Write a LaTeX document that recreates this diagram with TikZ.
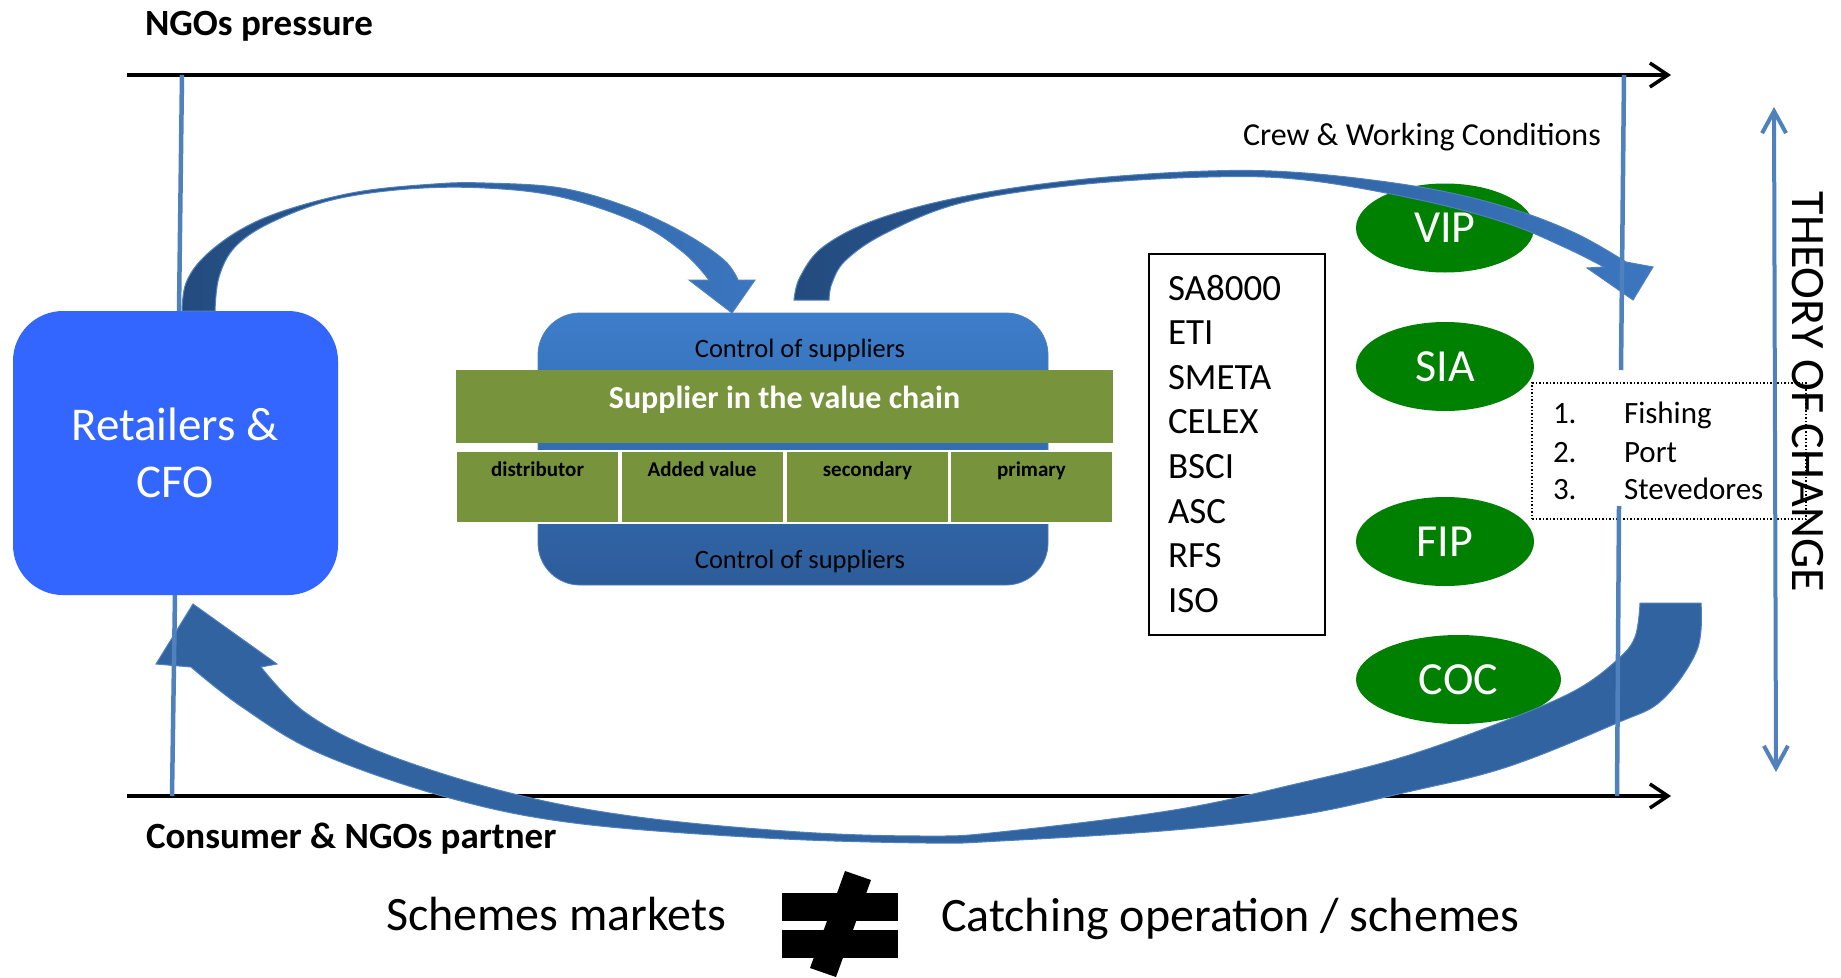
\documentclass[tikz,border=0pt]{standalone}
\usepackage{fontspec}
\setmainfont{Carlito}
\usetikzlibrary{arrows.meta,shapes.geometric}
\definecolor{retblue}{HTML}{3366FF}
\definecolor{linblue}{HTML}{4F81BD}
\definecolor{olivegr}{HTML}{77933C}
\definecolor{ellgreen}{HTML}{008000}
\definecolor{arrdark}{HTML}{234B7E}
\definecolor{arrlight}{HTML}{3B76BF}
\definecolor{arrmid}{HTML}{3063A0}
\definecolor{supptop}{HTML}{3D7DCA}
\definecolor{suppbot}{HTML}{2D5C9A}
\newcommand\fsz[1]{\fontsize{#1}{#1}\selectfont}
\begin{document}
\begin{tikzpicture}[x=1pt,y=-1pt,
  txt/.style={inner sep=0pt, outer sep=0pt},
  axisline/.style={line width=3.5pt, -{Straight Barb[length=18pt,width=24pt,line width=3.5pt]}},
  vline/.style={draw=linblue, line width=4.5pt},
  bigarrow/.style={draw=linblue, line width=1pt, left color=arrdark, right color=arrlight},
  ellnode/.style={ellipse, fill=ellgreen, text=white, inner sep=0pt, font=\fsz{46}, minimum height=89pt},
  cellbox/.style={fill=olivegr, draw=white, line width=2pt, minimum width=163pt, minimum height=72pt, inner sep=0pt},
  celltext/.style={txt, anchor=base, font=\bfseries\fsz{21}},
  stdtext/.style={txt, anchor=base west, font=\fsz{37}},
  listtext/.style={txt, anchor=base west, font=\fsz{31}},
  bigtext/.style={txt, anchor=base west, font=\fsz{48}}
]
\fill[white] (0,0) rectangle (1841,977);
\useasboundingbox (0,0) rectangle (1841,977);

% ---- horizontal axis arrows
\coordinate (topL) at (127,75);
\coordinate (topR) at (1671,75);
\coordinate (botL) at (127,796);
\coordinate (botR) at (1671,796);
\draw[axisline] (topL) -- (topR);
\draw[axisline] (botL) -- (botR);

% ---- labels
\node[txt, anchor=base west, font=\bfseries\fsz{37}] (ngo) at (145,35) {NGOs pressure};
\node[txt, anchor=base west, font=\bfseries\fsz{37}] (cons) at (146,848) {Consumer \& NGOs partner};
\node[txt, anchor=base west, font=\fsz{32}] (crew) at (1243,145) {Crew \& Working Conditions};

% ---- retailers
\node[fill=retblue, rounded corners=50pt, minimum width=325pt, minimum height=284pt, inner sep=0pt] (retail) at (175.5,453) {};
\node[txt, anchor=base, text=white, font=\fsz{47}] (rt1) at (175,440) {Retailers \&};
\node[txt, anchor=base, text=white, font=\fsz{47}] (rt2) at (175,497) {CFO};

% ---- supplier block
\node[rounded corners=42pt, top color=supptop, bottom color=suppbot, draw=linblue, line width=0.8pt, minimum width=510pt, minimum height=272pt, inner sep=0pt] (supp) at (793,449) {};
\node[fill=olivegr, minimum width=657pt, minimum height=73pt, inner sep=0pt] (band) at (784.5,406.5) {};
\node[txt, anchor=base, text=white, font=\bfseries\fsz{32}] (bandt) at (784.5,408) {Supplier in the value chain};
\node[cellbox] (c1) at (537.5,487) {};
\node[cellbox] (c2) at (702,487) {};
\node[cellbox] (c3) at (867.5,487) {};
\node[cellbox] (c4) at (1031.5,487) {};
\node[celltext] (c1t) at (537.5,476) {distributor};
\node[celltext] (c2t) at (702,476) {Added value};
\node[celltext] (c3t) at (867.5,476) {secondary};
\node[celltext] (c4t) at (1031.5,476) {primary};
\node[txt, anchor=base, font=\fsz{26.5}] (ctop) at (800,357) {Control of suppliers};
\node[txt, anchor=base, font=\fsz{26.5}] (cbot) at (800,568) {Control of suppliers};

% ---- standards box
\node[draw=black, line width=2pt, fill=white, minimum width=176pt, minimum height=381pt, inner sep=0pt] (std) at (1237,444.5) {};
\node[stdtext] (s1) at (1168,300) {SA8000};
\node[stdtext] (s2) at (1168,344.6) {ETI};
\node[stdtext] (s3) at (1168,389.2) {SMETA};
\node[stdtext] (s4) at (1168,433.8) {CELEX};
\node[stdtext] (s5) at (1168,478.4) {BSCI};
\node[stdtext] (s6) at (1168,523) {ASC};
\node[stdtext] (s7) at (1168,567.6) {RFS};
\node[stdtext] (s8) at (1168,612.2) {ISO};

% ---- ellipses
\node[ellnode, minimum width=178pt] (vip) at (1445,228) {VIP};
\node[ellnode, minimum width=178pt] (sia) at (1445,366.5) {SIA};
\node[ellnode, minimum width=178pt] (fip) at (1445,541.5) {FIP};
\node[ellnode, minimum width=205pt] (coc) at (1458.5,679.5) {COC};

% ---- dotted list
\node[draw=black, dotted, line width=1.5pt, minimum width=274pt, minimum height=136pt, inner sep=0pt] (list) at (1669,451) {};
\node[listtext] (n1) at (1553,423) {1.};
\node[listtext] (n2) at (1553,462) {2.};
\node[listtext] (n3) at (1553,499) {3.};
\node[listtext] (l1) at (1624,423) {Fishing};
\node[listtext] (l2) at (1624,462) {Port};
\node[listtext] (l3) at (1624,499) {Stevedores};

% ---- big curved arrows
% retailers -> supplier
\path[bigarrow] plot[smooth, tension=0.6] coordinates {(182,311) (186,283) (204,257) (240,230) (286,210) (357,192) (434,184) (485,183) (561,188) (628,207) (684,233) (724,260) (738,280)}
  -- (755,280) -- (732,313) -- (689,280) -- (709,280)
  -- plot[smooth, tension=0.6] coordinates {(709,280) (684,253) (638,223) (561,197) (485,188) (408,189) (332,200) (270,223) (235,247) (219,277) (215,311)} -- cycle;
% supplier -> crew
\path[bigarrow] plot[smooth, tension=0.6] coordinates {(794,300) (800,277) (823,247) (875,220) (961,197) (1076,180) (1208,171) (1305,173) (1420,187) (1506,207) (1575,233) (1626,262)}
  -- (1653,267) -- (1633,300) -- (1587,268) -- (1604,267)
  -- plot[smooth, tension=0.6] coordinates {(1604,267) (1564,247) (1506,223) (1420,200) (1305,180) (1208,177) (1076,185) (961,203) (886,233) (846,260) (832,283) (829,300)} -- cycle;
% bottom return arrow
\path[draw=linblue, line width=1pt, fill=arrmid] plot[smooth, tension=0.6] coordinates {(1701,603) (1697,650) (1662,700) (1617,723) (1507,767) (1403,793) (1300,815) (1174,830) (1000,841) (927,843) (765,838) (574,823) (446,797) (319,753) (242,707) (191,667)}
  -- (156,664) -- (193,604) -- (277,664) -- (261,667)
  -- plot[smooth, tension=0.6] coordinates {(261,667) (306,713) (383,753) (510,793) (638,817) (800,832) (927,836) (1000,832) (1174,810) (1300,783) (1403,757) (1507,720) (1576,690) (1617,660) (1635,637) (1640,603)} -- cycle;

% ---- vertical blue lines
\coordinate (v1a) at (182,75);
\coordinate (v1b) at (179,311);
\coordinate (v2a) at (175,595);
\coordinate (v2b) at (172,796);
\coordinate (v3a) at (1624,75);
\coordinate (v3b) at (1621,370);
\coordinate (v4a) at (1619,506);
\coordinate (v4b) at (1617,796);
\draw[vline] (v1a) -- (v1b);
\draw[vline] (v2a) -- (v2b);
\draw[vline] (v3a) -- (v3b);
\draw[vline] (v4a) -- (v4b);

% ---- theory of change
\coordinate (tocT) at (1774,107);
\coordinate (tocB) at (1776,772);
\draw[draw=linblue, line width=4pt, {Straight Barb[length=22pt,width=24pt,line width=4pt]}-{Straight Barb[length=22pt,width=24pt,line width=4pt]}] (tocT) -- (tocB);
\node[txt, rotate=-90, font=\fsz{48}] (toc) at (1808,392) {THEORY OF CHANGE};

% ---- bottom statement
\node[bigtext] (sm) at (386,930) {Schemes markets};
\node[bigtext] (co) at (941,931) {Catching operation / schemes};
\fill[black] (782,893) rectangle (898,921);
\fill[black] (782,930) rectangle (898,958);
\fill[black] (845,871) -- (871,880) -- (836,977) -- (810,968) -- cycle;
\end{tikzpicture}
\end{document}
